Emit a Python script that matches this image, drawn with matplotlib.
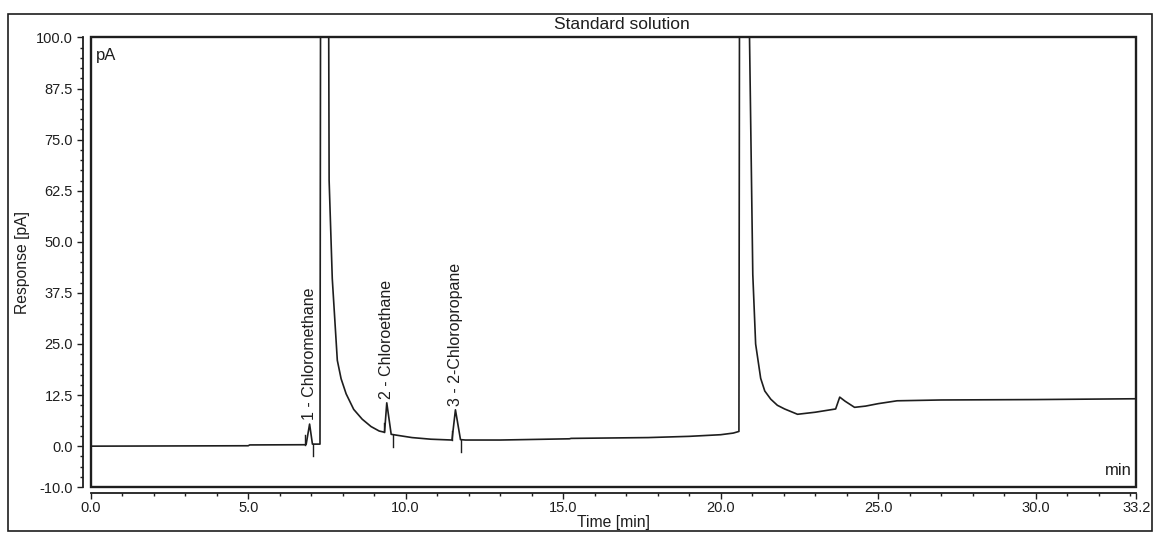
import numpy as np
import matplotlib.pyplot as plt
from matplotlib.patches import Rectangle

# Cromatograma "Standard solution"
tiempo = [0.0, 5.0, 5.05, 6.80, 6.84, 6.95, 7.04, 7.28, 7.30, 7.55, 7.57, 7.67,
          7.83, 7.95, 8.11, 8.35, 8.62, 8.90, 9.16, 9.33, 9.40, 9.54, 9.70,
          10.2, 10.8, 11.47, 11.58, 11.74, 11.9, 13.0, 15.2, 15.25, 17.7,
          19.0, 20.0, 20.4, 20.58, 20.60, 20.88, 21.02, 21.11, 21.27, 21.4,
          21.59, 21.8, 22.03, 22.44, 23.0, 23.65, 23.78, 23.95, 24.25, 24.6,
          25.0, 25.6, 27.0, 30.0, 33.2]
respuesta = [0.0, 0.1, 0.3, 0.35, 0.4, 5.4, 0.5, 0.5, 120, 120, 65, 41,
             21, 16.5, 12.8, 9.0, 6.6, 4.8, 3.7, 3.4, 10.6, 2.9, 2.7,
             2.1, 1.7, 1.5, 8.9, 1.6, 1.5, 1.5, 1.8, 1.9, 2.1,
             2.4, 2.8, 3.2, 3.6, 120, 120, 42, 25.0, 16.6, 13.5,
             11.5, 10.0, 9.1, 7.8, 8.3, 9.1, 12.0, 11.0, 9.5, 9.8,
             10.4, 11.1, 11.3, 11.4, 11.6]

# Picos identificados
picos_nombre = ['1 - Chloromethane', '2 - Chloroethane', '3 - 2-Chloropropane']
picos_tiempo = [6.95, 9.40, 11.58]
picos_inicio = [6.82, 9.30, 11.47]
picos_fin = [7.07, 9.60, 11.76]

# Ejes
y_ticks = [-10.0, 0.0, 12.5, 25.0, 37.5, 50.0, 62.5, 75.0, 87.5, 100.0]
x_ticks = [0.0, 5.0, 10.0, 15.0, 20.0, 25.0, 30.0, 33.2]

plt.rcParams['font.family'] = ['Liberation Sans', 'DejaVu Sans']
color = '#1e1e1e'

fig = plt.figure(figsize=(11.58, 5.40), dpi=100)
ax = fig.add_axes([0.0783, 0.0981, 0.9031, 0.8325])

ax.plot(tiempo, respuesta, color=color, linewidth=1.2)

# marcas de integracion y nombres de los picos
base_ini = np.interp(picos_inicio, tiempo, respuesta)
base_fin = np.interp(picos_fin, tiempo, respuesta)
for t, b in zip(picos_inicio, base_ini):
    ax.plot([t, t], [b, b + 2.3], color=color, linewidth=1.0)
for t, b in zip(picos_fin, base_fin):
    ax.plot([t, t], [b, b - 3.0], color=color, linewidth=1.0)
alturas = np.interp(picos_tiempo, tiempo, respuesta)
for nombre, t, h in zip(picos_nombre, picos_tiempo, alturas):
    ax.annotate(nombre, (t, h), xytext=(0, 3), textcoords='offset points',
                rotation=90, ha='center', va='bottom', fontsize=11.5, color=color)

ax.set_xlim(0, 33.2)
ax.set_ylim(-10, 100)

# marco interior
ax.add_patch(Rectangle((0, 0), 1, 1, transform=ax.transAxes, fill=False,
                       edgecolor=color, linewidth=1.7, clip_on=False))
ax.spines['top'].set_visible(False)
ax.spines['right'].set_visible(False)
ax.spines['left'].set_position(('outward', 5.8))
ax.spines['bottom'].set_position(('outward', 4.3))
for s in ['left', 'bottom']:
    ax.spines[s].set_linewidth(1.3)
    ax.spines[s].set_color(color)

ax.set_yticks(y_ticks)
ax.set_yticklabels([f'{v:.1f}' for v in y_ticks])
ax.set_yticks(np.arange(-10, 100.1, 2.5), minor=True)
ax.set_xticks(x_ticks)
ax.set_xticklabels([f'{v:.1f}' for v in x_ticks])
ax.set_xticks(np.arange(0, 33.1, 1.0), minor=True)
ax.tick_params(axis='both', which='major', direction='out', length=4,
               width=1.0, labelsize=10.5, colors=color)
ax.tick_params(axis='both', which='minor', direction='out', length=2,
               width=1.0, colors=color)
ax.tick_params(axis='y', which='major', pad=3)
ax.tick_params(axis='x', which='major', pad=1.5)

ax.set_xlabel('Time [min]', fontsize=11.3, color=color, labelpad=0)
ax.set_ylabel('Response [pA]', fontsize=11.3, color=color, labelpad=4)
ax.text(0.508, 1.012, 'Standard solution', transform=ax.transAxes,
        ha='center', va='bottom', fontsize=12.5, color=color)
ax.text(0.005, 0.96, 'pA', transform=ax.transAxes, ha='left', va='center',
        fontsize=12, color=color)
ax.text(0.996, 0.036, 'min', transform=ax.transAxes, ha='right', va='center',
        fontsize=12, color=color)

# marco exterior de la hoja
fig.patches.append(Rectangle((0.0069, 0.0167), 0.988, 0.957,
                             transform=fig.transFigure, fill=False,
                             edgecolor=color, linewidth=1.2))

fig.savefig('out.png', dpi=100)
